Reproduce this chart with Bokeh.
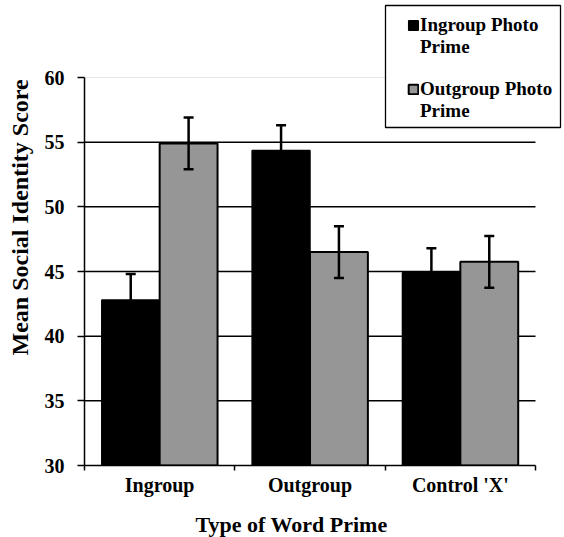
from bokeh.plotting import figure
from bokeh.models import (ColumnDataSource, FixedTicker, Whisker, TeeHead, Legend,
                          LegendItem, Title, BoxAnnotation)
from bokeh.embed import file_html
from bokeh.resources import INLINE

categories = ["Ingroup", "Outgroup", "Control 'X'"]
series = [["Ingroup Photo", "Prime"], ["Outgroup Photo", "Prime"]]
ingroup_photo = [42.8, 54.35, 44.9]
outgroup_photo = [54.9, 46.5, 45.75]
ingroup_err = [2.0, 1.95, 1.9]
outgroup_err = [2.0, 2.0, 2.0]
y_ticks = [30, 35, 40, 45, 50, 55, 60]

FONT = "Liberation Serif"
W, H = 564, 537
LEFT, BOTTOM = 84, 72          # frame offsets
AX_W, AX_H = 451, 388          # pixel size of the value area (0..3, 30..60)

n = len(categories)
y0, y1 = y_ticks[0], y_ticks[-1]
frame_w = W - LEFT
frame_h = H - BOTTOM
x_end = n * frame_w / AX_W
y_end = y0 + (y1 - y0) * frame_h / AX_H

centers = [i + 0.5 for i in range(n)]
bw = 0.385

p = figure(width=W, height=H, output_backend="svg", toolbar_location=None,
           x_range=(0, x_end), y_range=(y0, y_end),
           min_border_left=LEFT, min_border_right=0, min_border_top=0, min_border_bottom=BOTTOM)
p.outline_line_color = None
p.background_fill_color = "white"
p.border_fill_color = "white"
p.xgrid.visible = False
p.ygrid.visible = False

grid_y = y_ticks[1:-1]
p.segment(x0=[0] * len(grid_y), x1=[n] * len(grid_y), y0=grid_y, y1=grid_y,
          line_color="black", line_width=1.5)
p.segment(x0=[0], x1=[n], y0=[y1], y1=[y1], line_color="#e6e6e6", line_width=1)

src1 = ColumnDataSource(dict(x=[c - bw / 2 for c in centers], top=ingroup_photo,
                             upper=[v + e for v, e in zip(ingroup_photo, ingroup_err)],
                             lower=[v - e for v, e in zip(ingroup_photo, ingroup_err)]))
src2 = ColumnDataSource(dict(x=[c + bw / 2 for c in centers], top=outgroup_photo,
                             upper=[v + e for v, e in zip(outgroup_photo, outgroup_err)],
                             lower=[v - e for v, e in zip(outgroup_photo, outgroup_err)]))

r1 = p.vbar(x="x", top="top", bottom=y0, width=bw, source=src1,
            fill_color="black", line_color="black", line_width=1.5)
r2 = p.vbar(x="x", top="top", bottom=y0, width=bw, source=src2,
            fill_color="#969696", line_color="black", line_width=2)
blank = p.vbar(x=[], top=[], width=bw, fill_alpha=0, line_alpha=0)

for s in (src1, src2):
    w = Whisker(base="x", upper="upper", lower="lower", source=s, level="overlay",
                line_color="black", line_width=2.5,
                upper_head=TeeHead(size=10, line_color="black", line_width=2.5),
                lower_head=TeeHead(size=10, line_color="black", line_width=2.5))
    p.add_layout(w)

p.yaxis.bounds = (y0, y1)
p.yaxis.ticker = FixedTicker(ticks=y_ticks)
p.yaxis.axis_line_color = "black"
p.yaxis.axis_line_width = 1.5
p.yaxis.major_tick_line_width = 1.5
p.yaxis.major_tick_out = 7
p.yaxis.major_tick_in = 0
p.yaxis.minor_tick_line_color = None
p.yaxis.major_label_text_font = FONT
p.yaxis.major_label_text_font_style = "bold"
p.yaxis.major_label_text_font_size = "20px"
p.yaxis.major_label_text_color = "black"
p.yaxis.major_label_standoff = 13
# spacer between tick labels and the title
p.yaxis.axis_label = " "
p.yaxis.axis_label_text_font_size = "1px"
p.yaxis.axis_label_standoff = 3

p.xaxis.bounds = (0, n)
p.xaxis.ticker = FixedTicker(ticks=centers, minor_ticks=list(range(n + 1)))
p.xaxis.major_label_overrides = {c: name for c, name in zip(centers, categories)}
p.xaxis.axis_line_color = "black"
p.xaxis.axis_line_width = 1.5
p.xaxis.major_tick_line_color = None
p.xaxis.major_tick_out = 0
p.xaxis.major_tick_in = 0
p.xaxis.minor_tick_line_color = "black"
p.xaxis.minor_tick_line_width = 1.5
p.xaxis.minor_tick_out = 5
p.xaxis.minor_tick_in = 0
p.xaxis.major_label_text_font = FONT
p.xaxis.major_label_text_font_style = "bold"
p.xaxis.major_label_text_font_size = "20px"
p.xaxis.major_label_text_color = "black"
p.xaxis.major_label_standoff = 3
p.xaxis.axis_label = " "
p.xaxis.axis_label_text_font_size = "1px"
p.xaxis.axis_label_standoff = 7

p.add_layout(Title(text="Mean Social Identity Score", align="left", offset=110, standoff=4,
                   text_font=FONT, text_font_style="bold", text_font_size="24px",
                   text_color="black"), "left")
p.add_layout(Title(text="Type of Word Prime", align="left", offset=111, standoff=1,
                   text_font=FONT, text_font_style="bold", text_font_size="22px",
                   text_color="black"), "below")

# legend frame (canvas pixels from the top-left corner)
p.add_layout(BoxAnnotation(left=385, right=560, top=5, bottom=127,
                           left_units="canvas", right_units="canvas",
                           top_units="canvas", bottom_units="canvas",
                           fill_color="white", fill_alpha=1.0,
                           line_color="black", line_width=1.3, line_alpha=1.0))

rows = [LegendItem(label=series[0][0], renderers=[r1]),
        LegendItem(label=series[0][1], renderers=[blank]),
        LegendItem(label=" ", renderers=[blank]),
        LegendItem(label=series[1][0], renderers=[r2]),
        LegendItem(label=series[1][1], renderers=[blank])]
content = Legend(items=rows, location=(323, 343), margin=0, padding=0, spacing=0,
                 glyph_width=12, glyph_height=12, label_standoff=1, label_height=20,
                 label_text_font=FONT, label_text_font_style="bold", label_text_font_size="19px",
                 label_text_color="black", border_line_color=None,
                 background_fill_alpha=0.0)
p.add_layout(content, "center")

open("out.html", "w").write(file_html(p, INLINE))
